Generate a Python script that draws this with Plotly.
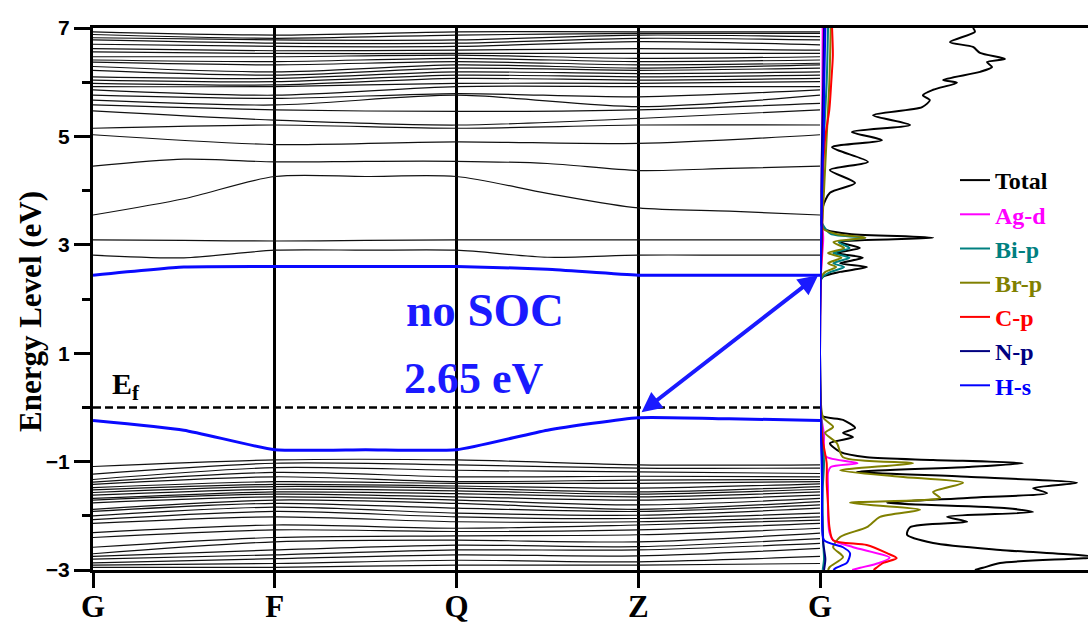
import plotly.graph_objects as go

# ---------------- data ----------------
kpath_labels = ["G", "F", "Q", "Z", "G"]
kpath_pos = [0, 1, 2, 3, 4]
k_fine = [0, 0.5, 1, 1.5, 2, 2.5, 3, 3.5, 4]

# conduction bands above ~4.8 eV, values at G, F, Q, Z, G
cond_G = [6.93, 6.88, 6.82, 6.78, 6.70, 6.62, 6.56, 6.47, 6.41, 6.37, 6.29, 6.22, 6.10, 6.04, 5.98, 5.92, 5.86, 5.76, 5.67, 5.58, 5.47, 5.15, 5.03]
cond_F = [6.87, 6.81, 6.78, 6.72, 6.66, 6.58, 6.53, 6.47, 6.38, 6.32, 6.19, 6.13, 6.07, 6.01, 5.95, 5.92, 5.76, 5.70, 5.58, 5.49, 5.30, 5.21, 4.85]
cond_Q = [6.93, 6.87, 6.78, 6.72, 6.66, 6.59, 6.53, 6.50, 6.44, 6.38, 6.32, 6.26, 6.19, 6.13, 6.07, 5.98, 5.92, 5.79, 5.76, 5.46, 5.21, 5.15, 4.90]
cond_Z = [6.93, 6.90, 6.87, 6.81, 6.75, 6.62, 6.53, 6.44, 6.38, 6.32, 6.26, 6.22, 6.16, 6.10, 6.04, 5.98, 5.92, 5.73, 5.55, 5.49, 5.33, 5.21, 4.87]
cond_G2 = [6.93, 6.90, 6.84, 6.78, 6.69, 6.59, 6.53, 6.47, 6.41, 6.35, 6.32, 6.26, 6.19, 6.13, 6.07, 6.01, 5.92, 5.86, 5.76, 5.61, 5.49, 5.21, 5.03]

# lower conduction bands on the fine k grid
band_A = [4.45, 4.58, 4.53, 4.54, 4.54, 4.50, 4.37, 4.41, 4.45]
band_B = [3.55, 3.85, 4.26, 4.26, 4.26, 3.95, 3.68, 3.62, 3.55]
band_C = [3.09, 3.08, 3.07, 3.08, 3.09, 3.09, 3.09, 3.09, 3.09]
band_D = [2.81, 2.76, 2.90, 2.90, 2.90, 2.77, 2.81, 2.81, 2.81]
cbm = [2.44, 2.59, 2.60, 2.60, 2.60, 2.55, 2.44, 2.44, 2.44]
vbm = [-0.24, -0.42, -0.78, -0.78, -0.78, -0.42, -0.19, -0.21, -0.24]

# valence bands, values at G, F, Q, Z, G
val_G = [-1.09, -1.23, -1.33, -1.38, -1.42, -1.48, -1.52, -1.57, -1.62, -1.68, -1.71, -1.76, -1.88, -1.92, -2.00, -2.07, -2.14, -2.31, -2.40, -2.58, -2.70, -2.75, -2.80, -2.87, -2.91, -2.95]
val_F = [-0.97, -1.03, -1.11, -1.20, -1.28, -1.37, -1.42, -1.46, -1.51, -1.56, -1.60, -1.65, -1.71, -1.77, -1.84, -1.92, -2.02, -2.17, -2.26, -2.40, -2.48, -2.63, -2.72, -2.79, -2.88, -2.95]
val_Q = [-0.97, -1.06, -1.16, -1.28, -1.37, -1.40, -1.45, -1.49, -1.54, -1.59, -1.65, -1.71, -1.77, -1.86, -1.95, -2.02, -2.11, -2.23, -2.29, -2.37, -2.45, -2.54, -2.63, -2.72, -2.82, -2.91]
val_Z = [-1.06, -1.12, -1.19, -1.27, -1.34, -1.40, -1.49, -1.56, -1.60, -1.65, -1.71, -1.80, -1.88, -1.92, -1.99, -2.05, -2.11, -2.17, -2.26, -2.35, -2.48, -2.57, -2.63, -2.74, -2.85, -2.91]
val_G2 = [-1.06, -1.12, -1.22, -1.28, -1.33, -1.37, -1.41, -1.46, -1.51, -1.56, -1.62, -1.68, -1.74, -1.80, -1.86, -1.95, -2.02, -2.08, -2.14, -2.23, -2.32, -2.42, -2.51, -2.60, -2.75, -2.88]

fermi_k = [0, 4]
fermi_E = [0, 0]

# DOS (arbitrary units)
tot_E = [7.00, 6.93, 6.74, 6.65, 6.54, 6.43, 6.37, 6.28, 6.19, 6.04, 5.99, 5.86, 5.76, 5.67, 5.54, 5.39, 5.21, 5.08, 4.93, 4.80, 4.53, 4.38, 4.14, 3.96, 3.70, 3.33, 3.27, 3.20, 3.13, 3.05, 2.94, 2.85, 2.76, 2.66, 2.59, 2.50, 2.41, 2.31, 1.50, 0.50, -0.14, -0.23, -0.38, -0.47, -0.55, -0.66, -0.82, -0.92, -0.97, -1.03, -1.10, -1.19, -1.28, -1.39, -1.49, -1.58, -1.67, -1.76, -1.86, -1.93, -2.02, -2.11, -2.21, -2.35, -2.50, -2.63, -2.76, -2.87, -2.96, -3.00]
tot_D = [57.1, 57.8, 48.5, 57.1, 59.7, 69.0, 62.3, 64.2, 59.7, 45.9, 51.1, 42.2, 38.4, 41.0, 38.1, 19.8, 33.6, 11.9, 23.1, 4.5, 17.9, 3.7, 13.1, 3.7, 1.1, 0.7, 2.6, 11.0, 42.2, 7.5, 14.9, 6.3, 16.0, 7.5, 17.5, 7.5, 1.1, 0.0, 0.0, 0.0, 0.0, 8.6, 13.1, 8.6, 12.3, 3.7, 7.5, 17.5, 42.2, 75.7, 54.9, 13.8, 54.9, 95.9, 79.5, 84.7, 54.9, 25.0, 69.8, 79.5, 47.4, 54.9, 33.6, 32.5, 42.2, 67.2, 103.0, 67.2, 60.8, 57.8]

agd_E = [7.00, 5.00, 3.50, 3.13, 2.80, 2.40, 1.00, -0.18, -0.50, -0.90, -1.03, -1.10, -1.20, -1.50, -2.00, -2.30, -2.45, -2.58, -2.77, -2.87, -2.96, -3.00]
agd_D = [1.0, 0.8, 0.6, 1.2, 0.8, 0.3, 0.0, 0.5, 1.5, 2.0, 14.0, 4.0, 3.0, 3.0, 3.0, 3.5, 4.9, 12.4, 26.0, 22.0, 15.0, 12.0]

bip_E = [7.00, 6.00, 5.00, 4.00, 3.40, 3.20, 3.13, 3.05, 2.94, 2.85, 2.76, 2.66, 2.59, 2.50, 2.41, 2.30, 1.00, -0.18, -1.03, -1.50, -2.00, -2.50, -2.80, -3.00]
bip_D = [3.0, 2.5, 1.5, 1.0, 0.8, 4.0, 16.8, 7.0, 11.0, 5.0, 11.0, 5.0, 9.0, 4.0, 1.0, 0.0, 0.0, 0.5, 1.5, 1.0, 1.0, 1.2, 1.5, 1.0]

brp_E = [7.00, 6.00, 5.00, 4.50, 4.00, 3.50, 3.30, 3.20, 3.13, 3.05, 2.94, 2.85, 2.76, 2.66, 2.59, 2.50, 2.41, 2.30, 1.00, -0.18, -0.36, -0.47, -0.66, -0.92, -1.03, -1.16, -1.28, -1.39, -1.56, -1.67, -1.76, -1.89, -2.02, -2.21, -2.39, -2.58, -2.76, -2.94, -3.00]
brp_D = [4.0, 3.5, 2.5, 2.0, 1.5, 1.0, 1.0, 6.0, 17.0, 5.0, 9.0, 3.0, 8.0, 3.0, 6.0, 2.0, 0.5, 0.0, 0.0, 1.1, 4.9, 1.9, 6.3, 8.6, 34.7, 7.5, 29.9, 53.4, 42.2, 44.8, 11.2, 37.3, 22.4, 17.5, 7.5, 4.9, 8.6, 3.7, 3.0]

cp_E = [7.00, 6.50, 6.00, 5.50, 5.00, 4.50, 4.00, 3.10, 2.40, 1.00, -0.18, -0.60, -1.03, -1.40, -1.80, -2.20, -2.45, -2.54, -2.69, -2.78, -2.87, -2.96, -3.00]
cp_D = [4.5, 4.8, 4.2, 3.5, 2.0, 1.2, 0.8, 0.8, 0.3, 0.0, 0.3, 1.0, 2.5, 2.5, 3.0, 3.5, 4.9, 17.4, 25.0, 28.6, 23.6, 21.0, 20.0]

np_E = [7.00, 6.00, 5.00, 4.00, 3.10, 2.40, 1.00, -0.18, -1.00, -1.50, -2.00, -2.50, -2.80, -3.00]
np_D = [1.5, 1.2, 0.8, 0.5, 0.6, 0.2, 0.0, 0.2, 0.8, 0.8, 0.8, 1.2, 2.0, 1.5]

hs_E = [7.00, 6.00, 5.00, 4.50, 4.00, 3.10, 2.40, 1.00, -0.18, -1.00, -1.50, -2.00, -2.45, -2.58, -2.69, -2.87, -2.96, -3.00]
hs_D = [2.0, 1.6, 1.4, 1.0, 0.8, 0.4, 0.2, 0.0, 0.2, 0.6, 0.8, 0.8, 1.5, 8.6, 11.2, 10.0, 6.0, 5.0]

dos_names = ["Total", "Ag-d", "Bi-p", "Br-p", "C-p", "N-p", "H-s"]
dos_colors = ["#000000", "#ff00ff", "#008080", "#808000", "#ff0000", "#000080", "#0000ff"]
dos_E = [tot_E, agd_E, bip_E, brp_E, cp_E, np_E, hs_E]
dos_D = [tot_D, agd_D, bip_D, brp_D, cp_D, np_D, hs_D]

# ---------------- figure ----------------
fig = go.Figure()
band_line = dict(color="#111111", width=1.2, shape="spline", smoothing=0.8)

for cols in (zip(cond_G, cond_F, cond_Q, cond_Z, cond_G2), zip(val_G, val_F, val_Q, val_Z, val_G2)):
    for vals in cols:
        fig.add_trace(go.Scatter(x=kpath_pos, y=list(vals), mode="lines", line=band_line,
                                 showlegend=False, hoverinfo="skip", xaxis="x", yaxis="y"))

for b in (band_A, band_B, band_C, band_D):
    fig.add_trace(go.Scatter(x=k_fine, y=b, mode="lines", line=band_line,
                             showlegend=False, hoverinfo="skip", xaxis="x", yaxis="y"))

for b in (cbm, vbm):
    fig.add_trace(go.Scatter(x=k_fine, y=b, mode="lines",
                             line=dict(color="#0a0aff", width=3, shape="spline", smoothing=0.5),
                             showlegend=False, hoverinfo="skip", xaxis="x", yaxis="y"))

fig.add_trace(go.Scatter(x=fermi_k, y=fermi_E, mode="lines",
                         line=dict(color="black", width=2.5, dash="8px,4px"),
                         showlegend=False, hoverinfo="skip", xaxis="x", yaxis="y"))

for name, col, E, D in zip(dos_names, dos_colors, dos_E, dos_D):
    fig.add_trace(go.Scatter(x=D, y=E, mode="lines",
                             line=dict(color=col, width=2, shape="spline", smoothing=0.7),
                             name=f"<span style='color:{col}'>{name}</span>",
                             legendgroup=name,
                             hoverinfo="skip", xaxis="x2", yaxis="y2"))

W = 1088.0
serif = "Liberation Serif, Times New Roman, serif"
sans = "Liberation Sans, Arial, sans-serif"

fig.update_layout(
    width=1088, height=626,
    margin=dict(l=0, r=0, t=28, b=56, autoexpand=False),
    paper_bgcolor="white", plot_bgcolor="white",
    xaxis=dict(domain=[93 / W, 820 / W], range=[0, 4], tickmode="array", automargin=False,
               tickvals=kpath_pos, ticktext=[f"<b>{t}</b>" for t in kpath_labels],
               tickfont=dict(family=serif, size=31, color="black"),
               ticklabelstandoff=-8,
               ticks="outside", ticklen=15, tickwidth=3, tickcolor="black",
               showgrid=True, gridcolor="black", gridwidth=3, zeroline=False,
               showline=True, linecolor="black", linewidth=3, mirror=True,
               anchor="y"),
    yaxis=dict(domain=[0, 1], range=[-3, 7], tickmode="linear", tick0=-3, dtick=2,
               tickformat="d", automargin=False,
               tickfont=dict(family=sans, size=21, color="black", weight="bold"),
               ticks="outside", ticklen=16, tickwidth=3, tickcolor="black",
               minor=dict(dtick=1, tick0=-3, ticks="outside", ticklen=8, tickwidth=3, tickcolor="black"),
               showgrid=False, zeroline=False,
               showline=True, linecolor="black", linewidth=3, anchor="x"),
    xaxis2=dict(domain=[820 / W, 1.0], range=[0, 100], showticklabels=False, ticks="",
                automargin=False,
                showgrid=False, zeroline=False, showline=True, linecolor="black",
                linewidth=3, mirror=True, anchor="y2"),
    yaxis2=dict(domain=[0, 1], range=[-3, 7], matches="y", showticklabels=False, ticks="",
                automargin=False,
                showgrid=False, zeroline=False, showline=False, anchor="x2"),
    legend=dict(x=955 / W, y=(570 - 158) / 542, xanchor="left", yanchor="top",
                font=dict(family=serif, size=24, weight="bold"),
                bgcolor="rgba(0,0,0,0)", borderwidth=0, tracegroupgap=0,
                traceorder="grouped", itemwidth=30),
    showlegend=True,
)

blue = "#1a1aff"
fig.add_annotation(x=2.157, y=1.80, xref="x", yref="y", text="<b>no SOC</b>", showarrow=False,
                   font=dict(family=serif, size=47, color=blue))
fig.add_annotation(x=2.096, y=0.54, xref="x", yref="y", text="<b>2.65 eV</b>", showarrow=False,
                   font=dict(family=serif, size=44, color=blue))
fig.add_annotation(x=0.18, y=0.40, xref="x", yref="y", text="<b>E<sub>f</sub></b>", showarrow=False,
                   font=dict(family=serif, size=30, color="black"))
# double-headed arrow between VBM (Z) and CBM (G)
fig.add_annotation(x=3.99, y=2.44, ax=3.01, ay=-0.11, xref="x", yref="y", axref="x", ayref="y",
                   text="", showarrow=True, arrowhead=2, startarrowhead=2, arrowside="end+start",
                   arrowwidth=4, arrowsize=1.0, startarrowsize=1.0, arrowcolor=blue)
# y-axis title
fig.add_annotation(x=30 / W, y=(570 - 312) / 542, xref="paper", yref="paper",
                   xanchor="center", yanchor="middle",
                   text="<b>Energy Level (eV)</b>", textangle=-90, showarrow=False,
                   font=dict(family=serif, size=31, color="black"))

fig.write_html("out.html")
